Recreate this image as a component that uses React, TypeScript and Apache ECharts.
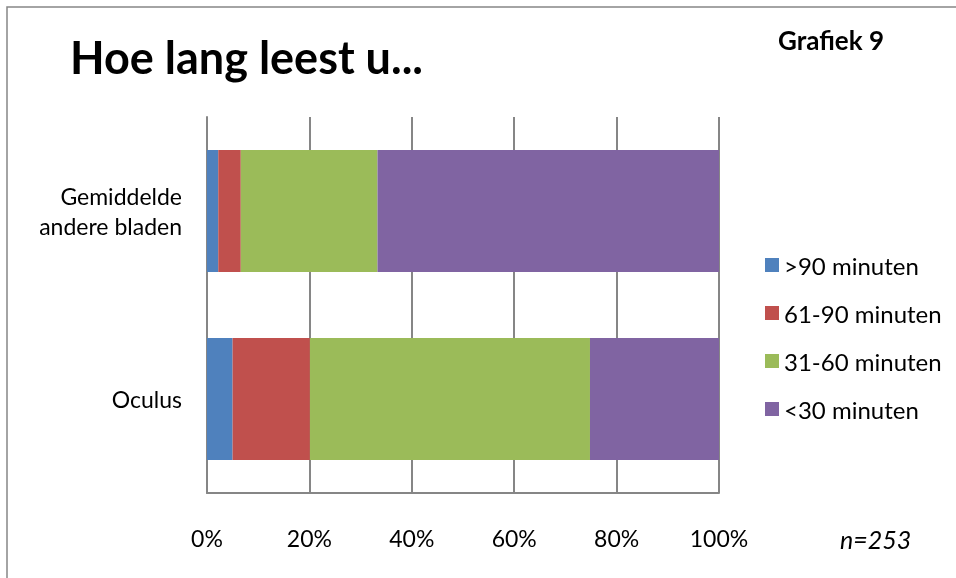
import React, { useEffect, useRef } from "react";
import * as echarts from "echarts";

const categories = ["Gemiddelde\nandere bladen", "Oculus"];
const seriesNames = [">90 minuten", "61-90 minuten", "31-60 minuten", "<30 minuten"];
const over90 = [2.2, 5.0];
const m61to90 = [4.4, 15.1];
const m31to60 = [26.7, 54.7];
const under30 = [66.7, 25.2];
const colors = ["#4F81BD", "#C0504D", "#9BBB59", "#8064A2"];
const xTicks = [0, 20, 40, 60, 80, 100];

const FONT = "Lato, 'Open Sans', sans-serif";

export default function App() {
  const ref = useRef<HTMLDivElement>(null);
  useEffect(() => {
    if (!ref.current) return;
    const chart = echarts.init(ref.current, null, { renderer: "svg" });
    const values = [over90, m61to90, m31to60, under30];
    chart.setOption({
      animation: false,
      textStyle: { fontFamily: FONT },
      graphic: [
        {
          type: "rect",
          shape: { x: 7, y: 7, width: 970, height: 600 },
          style: { fill: "none", stroke: "#868686", lineWidth: 1.5 },
        },
        {
          type: "text",
          left: 70,
          top: 34,
          style: { text: "Hoe lang leest u...", fontSize: 45, fontWeight: "bold", fill: "#000", fontFamily: FONT },
        },
        {
          type: "text",
          left: 778,
          top: 27,
          style: { text: "Grafiek 9", fontSize: 26, fontWeight: "bold", fill: "#000", fontFamily: FONT },
        },
        {
          type: "text",
          left: 840,
          top: 526,
          style: { text: "n=253", fontSize: 25, fontStyle: "italic", fill: "#000", fontFamily: FONT },
        },
      ],
      legend: {
        orient: "vertical",
        left: 760,
        top: 248,
        icon: "rect",
        itemWidth: 14,
        itemHeight: 14,
        itemGap: 24,
        textStyle: { fontSize: 24, color: "#000", lineHeight: 24, fontFamily: FONT },
        data: seriesNames,
      },
      grid: { left: 207, right: 237, top: 117, bottom: 85, containLabel: false },
      xAxis: {
        type: "value",
        min: 0,
        max: 100,
        interval: 20,
        axisLabel: {
          formatter: (v: number) => (xTicks.includes(v) ? v + "%" : ""),
          fontSize: 23,
          color: "#000",
          margin: 33,
          fontFamily: FONT,
        },
        axisLine: { show: true, lineStyle: { color: "#868686", width: 2 } },
        axisTick: { show: false },
        splitLine: { show: true, lineStyle: { color: "#868686", width: 2 } },
      },
      yAxis: {
        type: "category",
        inverse: true,
        data: categories,
        axisLine: { show: true, lineStyle: { color: "#868686", width: 2 } },
        axisTick: { show: false },
        axisLabel: { fontSize: 23, color: "#000", margin: 25, lineHeight: 30, align: "right", fontFamily: FONT },
      },
      series: seriesNames.map((name, i) => ({
        name,
        type: "bar",
        stack: "total",
        barCategoryGap: "35%",
        data: values[i],
        itemStyle: { color: colors[i] },
      })),
    });
    return () => chart.dispose();
  }, []);
  return <div ref={ref} style={{ position: "fixed", left: 0, top: 0, width: 956, height: 578 }} />;
}
